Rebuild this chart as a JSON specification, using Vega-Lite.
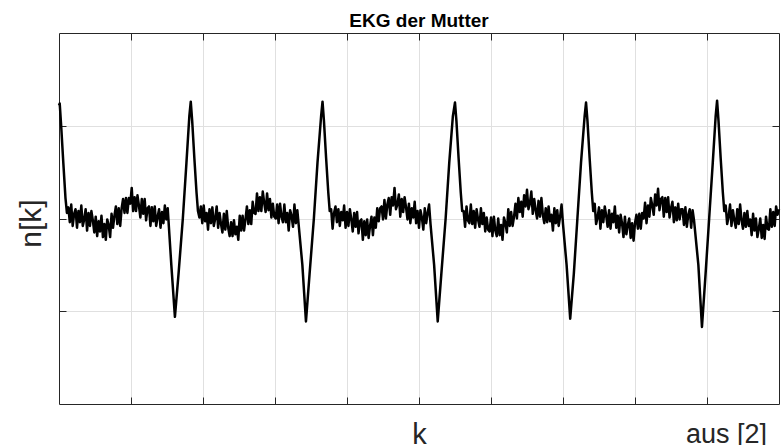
{
  "$schema": "https://vega.github.io/schema/vega-lite/v6.json",
  "width": 720,
  "height": 371,
  "autosize": {"type": "none"},
  "padding": {"left": 59, "top": 33, "right": 3, "bottom": 41},
  "background": "white",
  "title": {"text": "EKG der Mutter", "font": "Liberation Sans", "fontSize": 19, "fontWeight": "bold", "color": "#000000", "anchor": "middle", "baseline": "alphabetic", "offset": -13},
  "config": {"view": {"stroke": null}, "font": "Liberation Sans"},
  "data": {"values": [
    {"k":0,"n":1.22},{"k":1,"n":1.24},{"k":3,"n":1.0},{"k":6,"n":0.6},{"k":9,"n":0.22},{"k":11,"n":0.06},
    {"k":13,"n":0.12},{"k":15,"n":-0.04},{"k":17,"n":0.15},{"k":19,"n":-0.08},{"k":21,"n":0.05},{"k":23,"n":0.10},{"k":25,"n":-0.10},{"k":27,"n":0.08},{"k":29,"n":-0.04},{"k":31,"n":0.14},{"k":33,"n":-0.08},{"k":35,"n":-0.01},{"k":37,"n":0.10},{"k":39,"n":-0.13},{"k":41,"n":0.06},{"k":43,"n":-0.08},{"k":45,"n":0.08},{"k":47,"n":-0.02},{"k":49,"n":-0.15},{"k":51,"n":0.02},{"k":53,"n":-0.19},{"k":55,"n":-0.03},{"k":57,"n":-0.14},{"k":59,"n":0.03},{"k":61,"n":-0.20},{"k":63,"n":-0.06},{"k":65,"n":-0.23},{"k":67,"n":-0.01},{"k":69,"n":-0.07},{"k":71,"n":-0.20},{"k":73,"n":0.05},{"k":75,"n":-0.10},{"k":77,"n":0.03},{"k":79,"n":0.13},{"k":81,"n":-0.06},{"k":83,"n":0.11},{"k":85,"n":-0.08},{"k":87,"n":0.11},{"k":89,"n":0.21},{"k":91,"n":0.06},{"k":93,"n":0.22},{"k":95,"n":0.06},{"k":97,"n":0.22},{"k":99,"n":0.16},{"k":101,"n":0.33},{"k":103,"n":0.08},{"k":105,"n":0.23},{"k":107,"n":0.08},{"k":109,"n":0.25},{"k":111,"n":0.14},{"k":113,"n":0.01},{"k":115,"n":0.21},{"k":117,"n":0.05},{"k":119,"n":0.21},{"k":121,"n":-0.02},{"k":123,"n":0.11},{"k":125,"n":0.13},{"k":127,"n":-0.08},{"k":129,"n":0.12},{"k":131,"n":-0.03},{"k":133,"n":0.13},{"k":135,"n":-0.08},{"k":137,"n":0.02},{"k":139,"n":0.10},{"k":141,"n":-0.10},{"k":143,"n":0.07},{"k":145,"n":-0.05},{"k":147,"n":0.14},{"k":149,"n":-0.01},{"k":151,"n":0.11},
    {"k":156,"n":-0.5},{"k":161,"n":-1.06},{"k":166,"n":-0.6},{"k":172,"n":0.0},{"k":177,"n":0.6},{"k":181,"n":1.1},{"k":183,"n":1.26},{"k":185,"n":1.05},{"k":188,"n":0.65},{"k":191,"n":0.28},{"k":193,"n":0.08},
    {"k":195,"n":0.01},{"k":197,"n":0.13},{"k":199,"n":-0.05},{"k":201,"n":0.14},{"k":203,"n":-0.03},{"k":205,"n":0.06},{"k":207,"n":-0.12},{"k":209,"n":0.10},{"k":211,"n":-0.05},{"k":213,"n":0.12},{"k":215,"n":-0.08},{"k":217,"n":0.0},{"k":219,"n":0.13},{"k":221,"n":-0.10},{"k":223,"n":0.06},{"k":225,"n":-0.06},{"k":227,"n":-0.15},{"k":229,"n":0.05},{"k":231,"n":-0.12},{"k":233,"n":0.08},{"k":235,"n":-0.10},{"k":237,"n":-0.19},{"k":239,"n":-0.04},{"k":241,"n":-0.19},{"k":243,"n":-0.02},{"k":245,"n":-0.17},{"k":247,"n":-0.09},{"k":249,"n":-0.23},{"k":251,"n":0.03},{"k":253,"n":-0.13},{"k":255,"n":0.03},{"k":257,"n":-0.13},{"k":259,"n":-0.01},{"k":261,"n":0.13},{"k":263,"n":-0.06},{"k":265,"n":0.09},{"k":267,"n":-0.06},{"k":269,"n":0.18},{"k":271,"n":0.06},{"k":273,"n":0.05},{"k":275,"n":0.27},{"k":277,"n":0.08},{"k":279,"n":0.23},{"k":281,"n":0.08},{"k":283,"n":0.29},{"k":285,"n":0.17},{"k":287,"n":0.07},{"k":289,"n":0.27},{"k":291,"n":0.09},{"k":293,"n":0.21},{"k":295,"n":0.01},{"k":297,"n":0.16},{"k":299,"n":0.02},{"k":301,"n":0.0},{"k":303,"n":0.15},{"k":305,"n":-0.05},{"k":307,"n":0.16},{"k":309,"n":0.02},{"k":311,"n":-0.04},{"k":313,"n":0.15},{"k":315,"n":-0.04},{"k":317,"n":0.06},{"k":319,"n":-0.13},{"k":321,"n":0.09},{"k":323,"n":0.03},{"k":325,"n":-0.09},{"k":327,"n":0.15},{"k":329,"n":-0.05},{"k":331,"n":0.09},{"k":333,"n":-0.08},
    {"k":338,"n":-0.5},{"k":343,"n":-1.11},{"k":348,"n":-0.6},{"k":354,"n":0.0},{"k":359,"n":0.6},{"k":364,"n":1.1},{"k":366,"n":1.26},{"k":368,"n":1.05},{"k":371,"n":0.65},{"k":374,"n":0.28},{"k":376,"n":0.08},
    {"k":378,"n":0.10},{"k":380,"n":-0.11},{"k":382,"n":0.06},{"k":384,"n":0.13},{"k":386,"n":-0.04},{"k":388,"n":0.10},{"k":390,"n":-0.08},{"k":392,"n":0.07},{"k":394,"n":-0.02},{"k":396,"n":0.14},{"k":398,"n":-0.10},{"k":400,"n":0.07},{"k":402,"n":-0.08},{"k":404,"n":0.10},{"k":406,"n":-0.01},{"k":408,"n":-0.14},{"k":410,"n":0.06},{"k":412,"n":-0.09},{"k":414,"n":0.07},{"k":416,"n":-0.16},{"k":418,"n":-0.03},{"k":420,"n":-0.01},{"k":422,"n":-0.23},{"k":424,"n":-0.03},{"k":426,"n":-0.18},{"k":428,"n":-0.01},{"k":430,"n":-0.21},{"k":432,"n":-0.08},{"k":434,"n":0.02},{"k":436,"n":-0.18},{"k":438,"n":0.01},{"k":440,"n":-0.10},{"k":442,"n":0.11},{"k":444,"n":-0.03},{"k":446,"n":0.11},{"k":448,"n":0.13},{"k":450,"n":-0.01},{"k":452,"n":0.20},{"k":454,"n":0.0},{"k":456,"n":0.15},{"k":458,"n":0.22},{"k":460,"n":0.04},{"k":462,"n":0.23},{"k":464,"n":0.14},{"k":466,"n":0.33},{"k":468,"n":0.10},{"k":470,"n":0.15},{"k":472,"n":0.26},{"k":474,"n":0.02},{"k":476,"n":0.21},{"k":478,"n":0.07},{"k":480,"n":0.23},{"k":482,"n":0.12},{"k":484,"n":-0.01},{"k":486,"n":0.16},{"k":488,"n":-0.05},{"k":490,"n":0.11},{"k":492,"n":0.01},{"k":494,"n":0.18},{"k":496,"n":-0.05},{"k":498,"n":0.08},{"k":500,"n":-0.10},{"k":502,"n":0.09},{"k":504,"n":0.01},{"k":506,"n":-0.12},{"k":508,"n":0.11},{"k":510,"n":-0.05},{"k":512,"n":0.06},{"k":514,"n":0.15},{"k":516,"n":-0.06},
    {"k":521,"n":-0.5},{"k":526,"n":-1.11},{"k":531,"n":-0.6},{"k":537,"n":0.0},{"k":542,"n":0.6},{"k":547,"n":1.1},{"k":550,"n":1.25},{"k":552,"n":1.05},{"k":555,"n":0.65},{"k":558,"n":0.28},{"k":560,"n":0.08},
    {"k":562,"n":0.08},{"k":564,"n":-0.09},{"k":566,"n":0.13},{"k":568,"n":-0.02},{"k":570,"n":-0.05},{"k":572,"n":0.15},{"k":574,"n":-0.06},{"k":576,"n":0.08},{"k":578,"n":-0.10},{"k":580,"n":0.10},{"k":582,"n":-0.01},{"k":584,"n":-0.09},{"k":586,"n":0.11},{"k":588,"n":-0.06},{"k":590,"n":0.06},{"k":592,"n":-0.14},{"k":594,"n":0.01},{"k":596,"n":-0.12},{"k":598,"n":-0.14},{"k":600,"n":0.01},{"k":602,"n":-0.19},{"k":604,"n":0.02},{"k":606,"n":-0.13},{"k":608,"n":-0.19},{"k":610,"n":0.0},{"k":612,"n":-0.18},{"k":614,"n":-0.07},{"k":616,"n":-0.23},{"k":618,"n":0.01},{"k":620,"n":-0.05},{"k":622,"n":-0.15},{"k":624,"n":0.10},{"k":626,"n":-0.08},{"k":628,"n":0.07},{"k":630,"n":-0.08},{"k":632,"n":0.02},{"k":634,"n":0.16},{"k":636,"n":0.0},{"k":638,"n":0.22},{"k":640,"n":0.07},{"k":642,"n":0.18},{"k":644,"n":0.02},{"k":646,"n":0.25},{"k":648,"n":0.13},{"k":650,"n":0.31},{"k":652,"n":0.10},{"k":654,"n":0.16},{"k":656,"n":0.29},{"k":658,"n":0.05},{"k":660,"n":0.21},{"k":662,"n":0.09},{"k":664,"n":0.0},{"k":666,"n":0.19},{"k":668,"n":0.02},{"k":670,"n":0.22},{"k":672,"n":0.04},{"k":674,"n":-0.05},{"k":676,"n":0.11},{"k":678,"n":-0.04},{"k":680,"n":0.13},{"k":682,"n":-0.03},{"k":684,"n":0.04},{"k":686,"n":-0.13},{"k":688,"n":0.11},{"k":690,"n":-0.05},{"k":692,"n":0.09},{"k":694,"n":-0.08},{"k":696,"n":0.02},{"k":698,"n":0.15},{"k":700,"n":-0.06},
    {"k":705,"n":-0.5},{"k":710,"n":-1.08},{"k":715,"n":-0.6},{"k":720,"n":0.0},{"k":725,"n":0.6},{"k":730,"n":1.1},{"k":732,"n":1.25},{"k":734,"n":1.05},{"k":737,"n":0.65},{"k":740,"n":0.28},{"k":742,"n":0.08},
    {"k":744,"n":0.16},{"k":746,"n":-0.06},{"k":748,"n":0.01},{"k":750,"n":0.12},{"k":752,"n":-0.11},{"k":754,"n":0.09},{"k":756,"n":-0.04},{"k":758,"n":0.13},{"k":760,"n":0.03},{"k":762,"n":-0.09},{"k":764,"n":0.09},{"k":766,"n":-0.11},{"k":768,"n":0.05},{"k":770,"n":-0.04},{"k":772,"n":0.13},{"k":774,"n":-0.10},{"k":776,"n":0.03},{"k":778,"n":-0.15},{"k":780,"n":0.04},{"k":782,"n":-0.05},{"k":784,"n":-0.20},{"k":786,"n":0.02},{"k":788,"n":-0.17},{"k":790,"n":-0.07},{"k":792,"n":0.0},{"k":794,"n":-0.21},{"k":796,"n":-0.05},{"k":798,"n":-0.24},{"k":800,"n":-0.05},{"k":802,"n":0.04},{"k":804,"n":-0.11},{"k":806,"n":0.05},{"k":808,"n":-0.11},{"k":810,"n":0.06},{"k":812,"n":0.0},{"k":814,"n":0.17},{"k":816,"n":-0.05},{"k":818,"n":0.14},{"k":820,"n":0.02},{"k":822,"n":0.22},{"k":824,"n":0.14},{"k":826,"n":0.04},{"k":828,"n":0.26},{"k":830,"n":0.14},{"k":832,"n":0.32},{"k":834,"n":0.09},{"k":836,"n":0.21},{"k":838,"n":0.23},{"k":840,"n":0.02},{"k":842,"n":0.22},{"k":844,"n":0.07},{"k":846,"n":0.23},{"k":848,"n":0.01},{"k":850,"n":0.11},{"k":852,"n":0.18},{"k":854,"n":-0.04},{"k":856,"n":0.12},{"k":858,"n":-0.02},{"k":860,"n":0.16},{"k":862,"n":-0.01},{"k":864,"n":0.10},{"k":866,"n":0.10},{"k":868,"n":-0.07},{"k":870,"n":0.12},{"k":872,"n":-0.09},{"k":874,"n":0.04},{"k":876,"n":0.10},{"k":878,"n":-0.10},{"k":880,"n":0.09},{"k":882,"n":-0.02},
    {"k":888,"n":-0.5},{"k":893,"n":-1.17},{"k":898,"n":-0.6},{"k":903,"n":0.0},{"k":908,"n":0.6},{"k":912,"n":1.1},{"k":914,"n":1.27},{"k":916,"n":1.05},{"k":919,"n":0.65},{"k":922,"n":0.28},{"k":924,"n":0.08},
    {"k":926,"n":0.14},{"k":928,"n":-0.06},{"k":930,"n":0.02},{"k":932,"n":0.15},{"k":934,"n":-0.08},{"k":936,"n":0.09},{"k":938,"n":-0.02},{"k":940,"n":-0.10},{"k":942,"n":0.10},{"k":944,"n":-0.06},{"k":946,"n":0.15},{"k":948,"n":-0.02},{"k":950,"n":-0.11},{"k":952,"n":0.06},{"k":954,"n":-0.09},{"k":956,"n":0.08},{"k":958,"n":-0.08},{"k":960,"n":-0.01},{"k":962,"n":-0.18},{"k":964,"n":0.05},{"k":966,"n":-0.13},{"k":968,"n":0.0},{"k":970,"n":-0.20},{"k":972,"n":-0.11},{"k":974,"n":0.0},{"k":976,"n":-0.21},{"k":978,"n":-0.07},{"k":980,"n":-0.22},{"k":982,"n":0.02},{"k":984,"n":-0.11},{"k":986,"n":-0.12},{"k":988,"n":0.10},{"k":990,"n":-0.09},{"k":992,"n":0.07},{"k":994,"n":-0.08},{"k":996,"n":0.13},{"k":998,"n":0.04},{"k":1000,"n":0.10}
  ]},
  "layer": [
    {
      "mark": {"type": "line", "color": "#000000", "strokeWidth": 2.5, "strokeJoin": "round"},
      "encoding": {
        "x": {"field": "k", "type": "quantitative", "scale": {"domain": [0, 1000], "nice": false, "zero": false},
          "axis": {"orient": "bottom", "values": [100,200,300,400,500,600,700,800,900], "labels": false, "tickSize": -7, "tickColor": "#262626", "domainColor": "#262626", "grid": true, "gridColor": "#e0e0e0", "gridWidth": 1, "title": "k", "titleFont": "Liberation Sans", "titleFontSize": 29, "titleFontWeight": "normal", "titleColor": "#262626", "titleY": 39, "titleBaseline": "alphabetic"}},
        "y": {"field": "n", "type": "quantitative", "scale": {"domain": [-2, 2], "nice": false, "zero": false},
          "axis": {"orient": "left", "values": [-1, 0, 1], "labels": false, "tickSize": -7, "tickColor": "#262626", "domainColor": "#262626", "grid": true, "gridColor": "#e0e0e0", "gridWidth": 1, "title": "n[k]", "titleFont": "Liberation Sans", "titleFontSize": 30, "titleFontWeight": "normal", "titleColor": "#262626", "titleAngle": -90, "titleX": -19, "titleY": 190, "titleBaseline": "alphabetic"}}
      }
    },
    {
      "data": {"values": [{"t": "aus [2]"}]},
      "mark": {"type": "text", "align": "right", "baseline": "alphabetic", "dx": -12, "dy": 39, "font": "Liberation Sans", "fontSize": 27, "color": "#262626"},
      "encoding": {
        "text": {"field": "t"},
        "x": {"datum": 1000, "type": "quantitative",
          "axis": {"orient": "top", "values": [100,200,300,400,500,600,700,800,900], "labels": false, "tickSize": -7, "tickColor": "#262626", "domainColor": "#262626", "grid": false, "title": null}},
        "y": {"datum": -2, "type": "quantitative",
          "axis": {"orient": "right", "values": [-1, 0, 1], "labels": false, "tickSize": -7, "tickColor": "#262626", "domainColor": "#262626", "grid": false, "title": null}}
      }
    }
  ],
  "resolve": {"axis": {"x": "independent", "y": "independent"}}
}
